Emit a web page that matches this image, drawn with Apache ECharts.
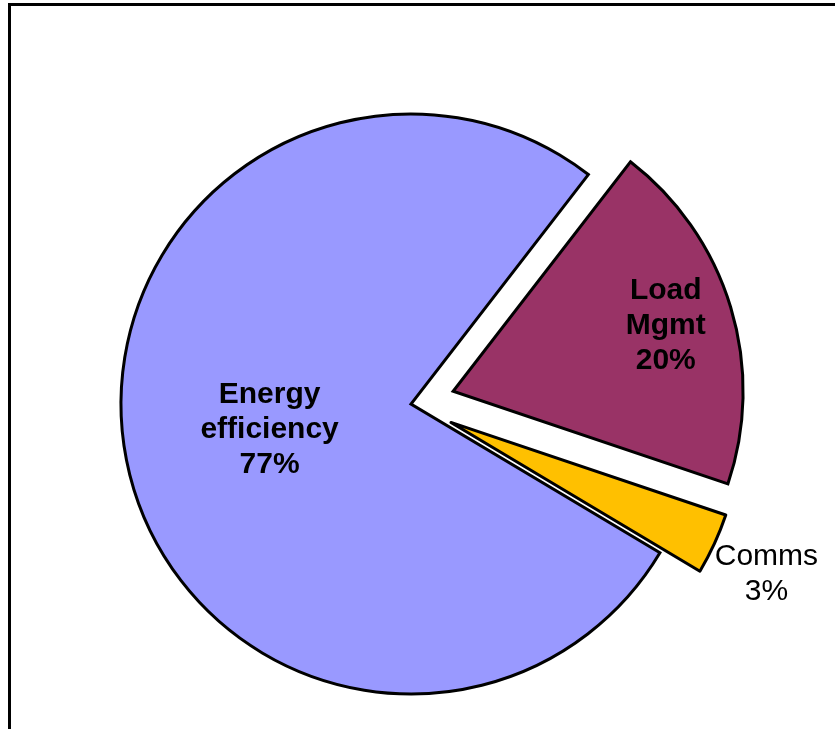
<!DOCTYPE html>
<html>
<head>
<meta charset="utf-8">
<script src="https://cdn.jsdelivr.net/npm/echarts@6/dist/echarts.min.js"></script>
<style>
html,body{margin:0;padding:0;background:#fff;overflow:hidden;}
#chart{width:835px;height:729px;}
</style>
</head>
<body>
<div id="chart"></div>
<script>
// Data
const categories = ['Load\nMgmt', 'Comms', 'Energy\nefficiency'];
const values = [19.7, 3.4, 76.9];
const colors = ['#993366', '#FFC000', '#9999FF'];
const exploded = [true, true, false];
const boldLabels = [true, false, true];

const chart = echarts.init(document.getElementById('chart'), null, {renderer: 'canvas'});

const labelShift = [
  {dx: 71, dy: -23},
  {dx: 181, dy: 90},
  {dx: 4, dy: -2}
];
const joins = ['miter', 'round', 'miter'];

const option = {
  animation: false,
  backgroundColor: '#ffffff',
  graphic: [{
    type: 'rect',
    shape: {x: 9.5, y: 4.5, width: 1000, height: 1000},
    style: {fill: 'none', stroke: '#000', lineWidth: 3},
    silent: true
  }],
  series: [{
    type: 'pie',
    center: [411, 404],
    radius: [0, 290],
    startAngle: 52.3,
    clockwise: true,
    selectedMode: 'multiple',
    selectedOffset: 44,
    avoidLabelOverlap: false,
    emphasis: {disabled: true},
    itemStyle: {borderColor: '#000', borderWidth: 3, borderJoin: 'miter'},
    label: {
      show: true,
      position: 'inside',
      formatter: '{b}\n{d}%',
      color: '#000',
      fontFamily: 'Liberation Sans, Arial, sans-serif',
      fontSize: 30,
      lineHeight: 35,
      align: 'center'
    },
    labelLine: {show: false},
    percentPrecision: 0,
    labelLayout: function (params) {
      return labelShift[params.dataIndex];
    },
    data: categories.map((c, i) => ({
      name: c,
      value: values[i],
      selected: exploded[i],
      itemStyle: {color: colors[i], borderJoin: joins[i]},
      label: {fontWeight: boldLabels[i] ? 'bold' : 'normal'}
    }))
  }]
};
chart.setOption(option);
</script>
</body>
</html>
